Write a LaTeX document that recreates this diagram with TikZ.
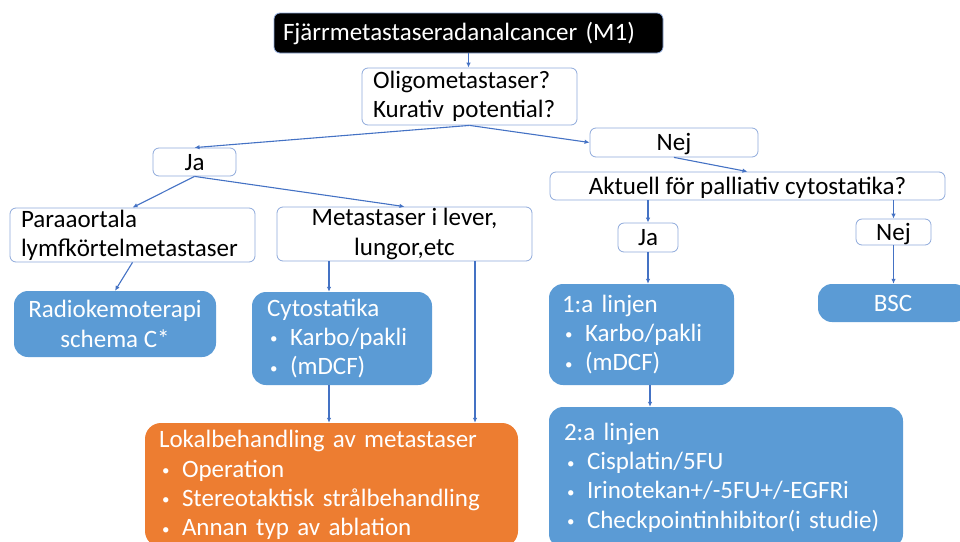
\documentclass[tikz,border=0pt]{standalone}
\usepackage{fontspec}
\setmainfont{Carlito}
\usetikzlibrary{arrows.meta}
\definecolor{linkblue}{HTML}{4472C4}
\definecolor{boxedge}{HTML}{8EA9DB}
\definecolor{fillblue}{HTML}{5B9BD5}
\definecolor{filloran}{HTML}{ED7D31}
\newcommand{\itm}[1]{\hspace*{3pt}\makebox[20pt][l]{\fontsize{15}{15}\selectfont\raisebox{1.5pt}{\textbullet}}#1}

\begin{document}
\begin{tikzpicture}[x=1pt, y=-1pt,
  every node/.style={font=\fontsize{25}{29.3}\selectfont, inner sep=0pt},
  start/.style={draw=boxedge, line width=0.8pt, fill=black, text=white, rounded corners=6pt, align=left},
  ask/.style={draw=boxedge, line width=0.8pt, fill=white, rounded corners=6pt, align=center},
  oneline/.style={ask, text height=16pt, text depth=0pt},
  asktext/.style={ask, align=left},
  treat/.style={fill=fillblue, text=white, rounded corners=14pt, align=left},
  local/.style={treat, fill=filloran, rounded corners=16pt},
  arr/.style={draw=linkblue, line width=1.1pt, -{Latex[length=5pt,width=4.5pt]}}
]
\useasboundingbox (0,0) rectangle (960,541);
\clip (0,0) rectangle (960,541);

% question chain
\node[start, text width=371pt, inner xsep=9pt, minimum height=40pt] (m1) at (468.5,33) {Fjärrmetastaseradanalcancer (M1)};
\node[asktext, text width=193pt, inner xsep=11pt, minimum height=57pt] (oligo) at (469.5,96.5) {Oligometastaser?\\Kurativ potential?};
\node[oneline, minimum width=83pt, minimum height=28pt] (ja1) at (194.5,162) {Ja};
\node[oneline, minimum width=168pt, minimum height=29pt] (nej1) at (674,142.5) {Nej};
\node[oneline, minimum width=395pt, minimum height=28pt] (akt) at (747.5,186) {Aktuell för palliativ cytostatika?};

% curative branch
\node[asktext, text width=223pt, inner xsep=11pt, minimum height=54pt] (para) at (132.5,235) {Paraaortala\\lymfkörtelmetastaser};
\node[ask, minimum width=255pt, minimum height=54pt] (metast) at (404.5,234) {Metastaser i lever,\\lungor,etc};
\node[treat, align=center, minimum width=202pt, minimum height=66pt] (radio) at (115,324) {Radiokemoterapi\\schema C*};
\node[treat, text width=150pt, inner xsep=15pt, minimum height=93pt] (cyto) at (342,338.5) {Cytostatika\\\itm{Karbo/pakli}\\\itm{(mDCF)}};
\node[local, text width=345pt, inner xsep=14pt, minimum height=124pt] (lokal) at (331.5,485) {Lokalbehandling av metastaser\\\itm{Operation}\\\itm{Stereotaktisk strålbehandling}\\\itm{Annan typ av ablation}};

% palliative branch
\node[oneline, minimum width=60pt, minimum height=29pt] (ja2) at (648,237.5) {Ja};
\node[oneline, minimum width=75pt, minimum height=26pt] (nej2) at (893.5,232) {Nej};
\node[treat, text width=159pt, inner xsep=13pt, minimum height=101pt] (line1) at (641.5,334.5) {1:a linjen\\\itm{Karbo/pakli}\\\itm{(mDCF)}};
\node[treat, align=center, minimum width=150pt, minimum height=38pt, text height=16pt, text depth=0pt] (bsc) at (893,303) {BSC};
\node[treat, text width=324pt, inner xsep=15pt, minimum height=141pt] (line2) at (726,477.5) {2:a linjen\\\itm{Cisplatin/5FU}\\\itm{Irinotekan+/-5FU+/-EGFRi}\\\itm{Checkpointinhibitor(i studie)}};

% connectors
\draw[arr] (m1.south) -- (m1.south |- oligo.north);
\draw[arr] (oligo.south) -- (ja1.north);
\draw[arr] (oligo.south) -- (nej1.west);
\draw[arr] (nej1.south) -- (akt.north);
\draw[arr] (ja1.south) -- (para.north);
\draw[arr] (ja1.south) -- (metast.north);
\draw[arr] (para.south) -- (radio.north);
\draw[arr] ([xshift=-13pt]cyto.north |- metast.south) -- ([xshift=-13pt]cyto.north);
\draw[arr] ([xshift=-13pt]cyto.south) -- ([xshift=-13pt]cyto.south |- lokal.north);
\draw[arr] ([xshift=70.5pt]metast.south) -- ([xshift=70.5pt]metast.south |- lokal.north);
\draw[arr] (ja2.north |- akt.south) -- (ja2.north);
\draw[arr] (nej2.north |- akt.south) -- (nej2.north);
\draw[arr] (ja2.south) -- (ja2.south |- line1.north);
\draw[arr] (nej2.south) -- (nej2.south |- bsc.north);
\draw[arr] ([xshift=8.5pt]line1.south) -- ([xshift=8.5pt]line1.south |- line2.north);
\end{tikzpicture}
\end{document}
